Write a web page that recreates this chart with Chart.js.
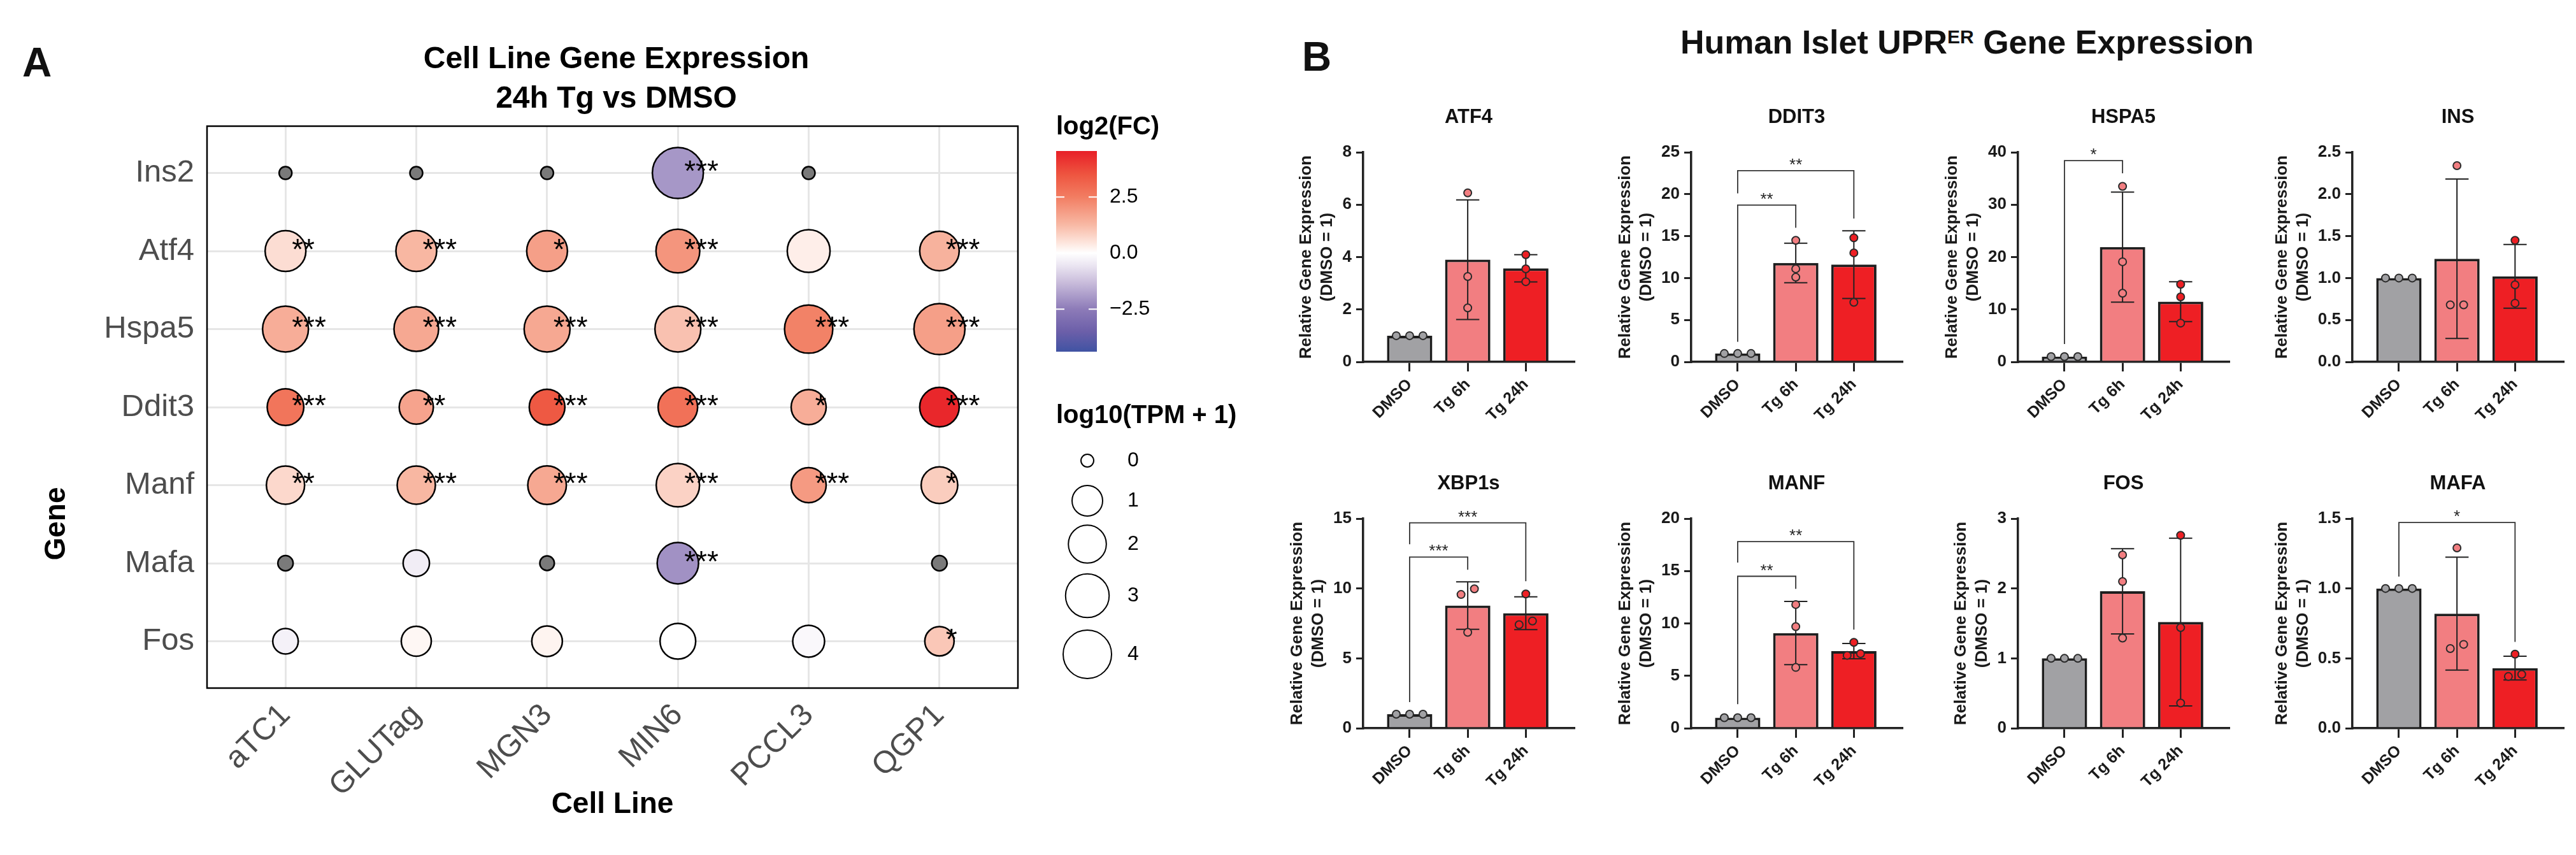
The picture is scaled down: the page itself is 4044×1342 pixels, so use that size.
<!DOCTYPE html>
<html>
<head>
<meta charset="utf-8">
<script src="https://cdn.jsdelivr.net/npm/chart.js@4.4.1/dist/chart.umd.min.js"></script>
<style>
  html, body { margin: 0; padding: 0; background: #fff; }
  body { width: 4044px; height: 1342px; position: relative; overflow: hidden; font-family: "Liberation Sans", Arial, sans-serif; }
  canvas { position: absolute; }
  .lbl { position: absolute; font-weight: bold; color: #111; line-height: 1; white-space: nowrap; }
</style>
</head>
<body>
<div class="lbl" style="left:35px; top:66px; font-size:64px;">A</div>
<div class="lbl" style="left:2044px; top:57px; font-size:64px;">B</div>
<div class="lbl" style="left:3088px; top:66px; font-size:52px; transform:translate(-50%,-50%);">Human Islet UPR<span style="font-size:30px; vertical-align:16px;">ER</span> Gene Expression</div>
<canvas id="chartA"></canvas>
<script>
// ---------- Panel A: cell line dot plot ----------
const cellLines = ['aTC1', 'GLUTag', 'MGN3', 'MIN6', 'PCCL3', 'QGP1'];
const genes = ['Ins2', 'Atf4', 'Hspa5', 'Ddit3', 'Manf', 'Mafa', 'Fos'];

// log10(TPM + 1), rows = genes, cols = cell lines (null = no point)
const tpm = [
  [0, 0, 0, 4.6, 0, null],
  [2.47, 2.47, 2.47, 3.03, 2.84, 2.25],
  [3.45, 3.19, 3.45, 3.45, 3.96, 4.6],
  [1.79, 1.44, 1.65, 2.25, 1.56, 2.25],
  [2.04, 2.04, 2.1, 2.94, 1.56, 1.79],
  [0.02, 0.58, 0.01, 2.58, null, 0.02],
  [0.51, 0.94, 1.0, 1.65, 1.15, 0.86]
];

// log2(FC), null = NA (grey dot)
const log2FC = [
  [null, null, null, -2.0, null, null],
  [0.6, 1.3, 1.8, 2.0, 0.3, 1.4],
  [1.5, 1.6, 1.6, 1.1, 2.4, 1.8],
  [2.7, 1.7, 3.4, 2.8, 1.5, 4.4],
  [0.7, 1.3, 1.6, 0.8, 1.9, 0.9],
  [null, -0.4, null, -2.1, null, null],
  [-0.3, 0.15, 0.2, 0.0, -0.15, 1.0]
];

const sigA = [
  ['', '', '', '***', '', ''],
  ['**', '***', '*', '***', '', '***'],
  ['***', '***', '***', '***', '***', '***'],
  ['***', '**', '***', '***', '*', '***'],
  ['**', '***', '***', '***', '***', '*'],
  ['', '', '', '***', '', ''],
  ['', '', '', '', '', '*']
];

const fcTicks = [2.5, 0, -2.5];
const fcRange = [-4.4, 4.55];
const sizeBreaks = [0, 1, 2, 3, 4];

// ---------- Panel B: human islet bar charts ----------
const groups = ['DMSO', 'Tg 6h', 'Tg 24h'];
const humanGenes = ['ATF4', 'DDIT3', 'HSPA5', 'INS', 'XBP1s', 'MANF', 'FOS', 'MAFA'];
const barMeans = [
  [1.0, 3.9, 3.57],
  [1.0, 11.8, 11.6],
  [1.0, 21.9, 11.5],
  [1.0, 1.23, 1.02],
  [1.0, 8.78, 8.23],
  [1.0, 9.08, 7.35],
  [1.0, 1.96, 1.52],
  [1.0, 0.82, 0.43]
];
const barSD = [
  [0, 2.28, 0.52],
  [0, 2.35, 4.03],
  [0, 10.5, 3.8],
  [0, 0.95, 0.38],
  [0, 1.7, 1.17],
  [0, 3.01, 0.73],
  [0, 0.61, 1.2],
  [0, 0.404, 0.085]
];
const replicates = [
  [[1, 1, 1], [6.45, 3.26, 2.06], [4.09, 3.55, 3.06]],
  [[1, 1, 1], [14.5, 11.1, 10.1], [14.8, 13.0, 7.1]],
  [[1, 1, 1], [33.5, 19.1, 13.1], [14.8, 12.4, 7.4]],
  [[1, 1, 1], [2.34, 0.68, 0.68], [1.45, 0.92, 0.70]],
  [[1, 1, 1], [9.97, 9.57, 6.86], [9.61, 7.67, 7.41]],
  [[1, 1, 1], [11.8, 9.7, 5.8], [8.19, 7.11, 6.95]],
  [[1, 1, 1], [2.48, 2.10, 1.29], [2.76, 1.44, 0.36]],
  [[1, 1, 1], [1.29, 0.60, 0.57], [0.53, 0.385, 0.37]]
];
const yTicksB = [
  [0, 2, 4, 6, 8],
  [0, 5, 10, 15, 20, 25],
  [0, 10, 20, 30, 40],
  [0, 0.5, 1, 1.5, 2, 2.5],
  [0, 5, 10, 15],
  [0, 5, 10, 15, 20],
  [0, 1, 2, 3],
  [0, 0.5, 1, 1.5]
];
// [from, to, line y, left leg end, right leg end, label]
const brackets = [
  [],
  [[0, 1, 18.7, 2.4, 16.0, '**'], [0, 2, 22.8, 20.1, 17.1, '**']],
  [[0, 1, 38.4, 3.4, 36.0, '*']],
  [],
  [[0, 1, 12.25, 1.87, 11.34, '***'], [0, 2, 14.7, 13.17, 10.52, '***']],
  [[0, 1, 14.5, 2.3, 13.3, '**'], [0, 2, 17.8, 15.8, 9.4, '**']],
  [],
  [[0, 2, 1.472, 1.085, 0.618, '*']]
];

const FONT = '"Liberation Sans", Arial, sans-serif';
const groupFill = ['#a1a1a4', '#f27e81', '#ee1f24'];

// ggplot-like gradient2
const fcStops = [
  [4.55, '#e81f27'], [3.5, '#ee5540'], [2.5, '#f27d62'], [1.25, '#f8b9a5'],
  [0.5, '#fde3da'], [0, '#ffffff'], [-0.5, '#ede8f3'], [-1.25, '#ccc0dd'],
  [-2.5, '#8d7bb8'], [-3.5, '#6c5fa9'], [-4.4, '#4053a3']
];
function hexRgb(h) {
  return [1, 3, 5].map(i => parseInt(h.substr(i, 2), 16));
}
function fcColor(v) {
  if (v >= fcStops[0][0]) return fcStops[0][1];
  for (let i = 0; i < fcStops.length - 1; i++) {
    const [v1, c1] = fcStops[i], [v2, c2] = fcStops[i + 1];
    if (v <= v1 && v >= v2) {
      const t = (v1 - v) / (v1 - v2);
      const a = hexRgb(c1), b = hexRgb(c2);
      return 'rgb(' + a.map((x, k) => Math.round(x + (b[k] - x) * t)).join(',') + ')';
    }
  }
  return fcStops[fcStops.length - 1][1];
}
function sizeFor(v) {
  return 10 + 28 * Math.sqrt(Math.max(v, 0) / 4);
}

const bubblePoints = [];
genes.forEach((g, gi) => {
  cellLines.forEach((c, ci) => {
    if (tpm[gi][ci] === null) return;
    bubblePoints.push({ x: ci, y: gi, tpm: tpm[gi][ci], fc: log2FC[gi][ci], sig: sigA[gi][ci] });
  });
});

const panelADecor = {
  id: 'panelADecor',
  afterDatasetsDraw(chart) {
    const ctx = chart.ctx;
    const meta = chart.getDatasetMeta(0);
    ctx.save();
    ctx.fillStyle = '#000';
    ctx.font = '46px ' + FONT;
    ctx.textAlign = 'left';
    ctx.textBaseline = 'middle';
    meta.data.forEach((el, i) => {
      const p = bubblePoints[i];
      if (p.sig) ctx.fillText(p.sig, el.x + 10, el.y);
    });
    ctx.restore();
  },
  afterDraw(chart) {
    const ctx = chart.ctx, a = chart.chartArea;
    const cx = (a.left + a.right) / 2;
    ctx.save();
    ctx.strokeStyle = '#000';
    ctx.lineWidth = 2.5;
    ctx.strokeRect(a.left, a.top, a.right - a.left, a.bottom - a.top);

    ctx.fillStyle = '#000';
    ctx.textAlign = 'center';
    ctx.textBaseline = 'middle';
    ctx.font = 'bold 48px ' + FONT;
    ctx.fillText('Cell Line Gene Expression', cx + 6, 94);
    ctx.fillText('24h Tg vs DMSO', cx + 6, 156);
    ctx.font = 'bold 46px ' + FONT;
    ctx.fillText('Cell Line', cx, 1263);
    ctx.save();
    ctx.translate(89, 822);
    ctx.rotate(-Math.PI / 2);
    ctx.fillText('Gene', 0, 0);
    ctx.restore();

    // colour bar legend
    const cbL = 1658, cbR = 1722, cbT = 237, cbB = 552;
    const yOf = v => cbT + (fcRange[1] - v) / (fcRange[1] - fcRange[0]) * (cbB - cbT);
    ctx.textAlign = 'left';
    ctx.font = 'bold 40px ' + FONT;
    ctx.fillText('log2(FC)', cbL, 200);
    const grad = ctx.createLinearGradient(0, cbT, 0, cbB);
    fcStops.forEach(([v, c]) => grad.addColorStop((fcRange[1] - v) / (fcRange[1] - fcRange[0]), c));
    ctx.fillStyle = grad;
    ctx.fillRect(cbL, cbT, cbR - cbL, cbB - cbT);
    ctx.strokeStyle = '#fff';
    ctx.lineWidth = 2;
    ctx.font = '32px ' + FONT;
    ctx.fillStyle = '#000';
    fcTicks.forEach(v => {
      const y = yOf(v);
      ctx.beginPath();
      ctx.moveTo(cbL, y); ctx.lineTo(cbL + 13, y);
      ctx.moveTo(cbR - 13, y); ctx.lineTo(cbR, y);
      ctx.stroke();
      ctx.fillText(v.toFixed(1).replace('-', '\u2212'), 1742, y);
    });

    // size legend
    ctx.font = 'bold 40px ' + FONT;
    ctx.fillText('log10(TPM + 1)', cbL, 653);
    const keyY = [723, 786, 854, 935, 1027];
    ctx.font = '32px ' + FONT;
    ctx.strokeStyle = '#000';
    sizeBreaks.forEach((b, i) => {
      ctx.beginPath();
      ctx.arc(1707, keyY[i], sizeFor(b), 0, Math.PI * 2);
      ctx.fillStyle = '#fff';
      ctx.fill();
      ctx.lineWidth = 2;
      ctx.stroke();
      ctx.fillStyle = '#000';
      ctx.fillText(String(b), 1770, keyY[i]);
    });
    ctx.restore();
  }
};

const canvasA = document.getElementById('chartA');
canvasA.width = 2000; canvasA.height = 1342;
canvasA.style.left = '0px'; canvasA.style.top = '0px';
canvasA.style.width = '2000px'; canvasA.style.height = '1342px';

new Chart(canvasA, {
  type: 'bubble',
  data: {
    datasets: [{
      data: bubblePoints,
      radius: ctx => (ctx.raw ? sizeFor(ctx.raw.tpm) : 10),
      backgroundColor: ctx => (!ctx.raw ? '#999' : ctx.raw.fc === null ? '#7a7a7a' : fcColor(ctx.raw.fc)),
      borderColor: '#000',
      borderWidth: 2.5
    }]
  },
  options: {
    animation: false,
    responsive: false,
    devicePixelRatio: 1,
    layout: { padding: { left: 0, top: 198, right: 402, bottom: 62 } },
    plugins: { legend: { display: false }, tooltip: { enabled: false } },
    scales: {
      x: {
        type: 'linear', min: -0.6, max: 5.6,
        afterBuildTicks: s => { s.ticks = cellLines.map((c, i) => ({ value: i })); },
        afterFit: s => { s.height = 200; },
        ticks: {
          callback: v => cellLines[v], autoSkip: false,
          minRotation: 45, maxRotation: 45, padding: 14,
          color: '#4d4d4d', font: { family: FONT, size: 49 }
        },
        grid: { color: '#e6e6e6', lineWidth: 3, drawTicks: false },
        border: { display: false }
      },
      y: {
        type: 'linear', min: -0.6, max: 6.6, reverse: true,
        afterBuildTicks: s => { s.ticks = genes.map((g, i) => ({ value: i })); },
        afterFit: s => { s.width = 325; },
        ticks: {
          callback: v => genes[v], autoSkip: false, padding: 20,
          color: '#4d4d4d', font: { family: FONT, size: 49 }
        },
        grid: { color: '#e6e6e6', lineWidth: 3, drawTicks: false },
        border: { display: false }
      }
    }
  },
  plugins: [panelADecor]
});

// ---------- Panel B charts ----------
const colAxisX = [2140, 2655, 3168, 3693];
const rowTop = [239, 814];
const plotW = 331, plotH = 329;
const padL = 130, padT = 100, padR = 20, padB = 150;

function spread(vals, ymax) {
  const idx = vals.map((v, i) => i).sort((a, b) => vals[a] - vals[b]);
  const off = vals.map(() => 0);
  let cluster = [idx[0]];
  const flush = () => cluster.forEach((k, j) => { off[k] = (j - (cluster.length - 1) / 2) * 0.23; });
  for (let j = 1; j < idx.length; j++) {
    if (vals[idx[j]] - vals[idx[j - 1]] < ymax * 0.035) cluster.push(idx[j]);
    else { flush(); cluster = [idx[j]]; }
  }
  flush();
  return off;
}

function makeExtras(k) {
  return {
    id: 'extras' + k,
    afterDatasetDraw(chart, args) {
      if (args.index !== 0) return;
      const ctx = chart.ctx, xs = chart.scales.x, ys = chart.scales.y;
      ctx.save();
      ctx.strokeStyle = '#222';
      ctx.lineWidth = 2;
      barMeans[k].forEach((m, i) => {
        const s = barSD[k][i];
        if (!s) return;
        const x = xs.getPixelForValue(i);
        const half = xs.getPixelForValue(i + 0.2) - x;
        const yt = ys.getPixelForValue(m + s), yb = ys.getPixelForValue(Math.max(m - s, 0));
        ctx.beginPath();
        ctx.moveTo(x, yt); ctx.lineTo(x, yb);
        ctx.moveTo(x - half, yt); ctx.lineTo(x + half, yt);
        ctx.moveTo(x - half, yb); ctx.lineTo(x + half, yb);
        ctx.stroke();
      });
      ctx.restore();
    },
    afterDraw(chart) {
      const ctx = chart.ctx, xs = chart.scales.x, ys = chart.scales.y, a = chart.chartArea;
      ctx.save();
      ctx.strokeStyle = '#333';
      ctx.lineWidth = 1.8;
      ctx.fillStyle = '#222';
      ctx.textAlign = 'center';
      ctx.textBaseline = 'middle';
      ctx.font = '26px ' + FONT;
      brackets[k].forEach(([f, t, y, yl, yr, lab]) => {
        const x1 = xs.getPixelForValue(f), x2 = xs.getPixelForValue(t), py = ys.getPixelForValue(y);
        ctx.beginPath();
        ctx.moveTo(x1, ys.getPixelForValue(yl));
        ctx.lineTo(x1, py);
        ctx.lineTo(x2, py);
        ctx.lineTo(x2, ys.getPixelForValue(yr));
        ctx.stroke();
        ctx.fillText(lab, (x1 + x2) / 2, py - 8);
      });
      ctx.font = 'bold 31px ' + FONT;
      ctx.fillStyle = '#111';
      ctx.fillText(humanGenes[k], (a.left + a.right) / 2, a.top - 55);
      ctx.restore();
    }
  };
}

humanGenes.forEach((gene, k) => {
  const col = k % 4, row = Math.floor(k / 4);
  const cv = document.createElement('canvas');
  const w = padL + plotW + padR, h = padT + plotH + padB;
  cv.width = w; cv.height = h;
  cv.style.left = (colAxisX[col] - padL) + 'px';
  cv.style.top = (rowTop[row] - padT) + 'px';
  cv.style.width = w + 'px'; cv.style.height = h + 'px';
  document.body.appendChild(cv);

  const ticks = yTicksB[k];
  const ymax = ticks[ticks.length - 1];
  const dec = ticks.some(v => v % 1 !== 0) ? 1 : 0;
  const maxLabel = Math.max(...ticks.map(v => v.toFixed(dec).length));
  const titlePad = maxLabel === 1 ? 24 : maxLabel === 2 ? 10 : 3;

  const pts = [];
  replicates[k].forEach((vals, gi) => {
    const off = spread(vals, ymax);
    vals.forEach((v, j) => pts.push({ x: gi + off[j], y: v }));
  });

  new Chart(cv, {
    type: 'bar',
    data: {
      datasets: [
        {
          type: 'bar',
          data: barMeans[k].map((m, i) => ({ x: i, y: m })),
          backgroundColor: groupFill,
          borderColor: '#1e1e1e',
          borderWidth: 4,
          barPercentage: 0.78,
          categoryPercentage: 1,
          order: 2
        },
        {
          type: 'scatter',
          data: pts,
          pointRadius: 6,
          pointBorderWidth: 2,
          pointBorderColor: '#2a2a2a',
          pointBackgroundColor: ctx => (ctx.raw ? groupFill[Math.round(ctx.raw.x)] : '#999'),
          order: 1
        }
      ]
    },
    options: {
      animation: false,
      responsive: false,
      devicePixelRatio: 1,
      layout: { padding: { left: 0, top: padT, right: padR, bottom: 0 } },
      plugins: { legend: { display: false }, tooltip: { enabled: false } },
      scales: {
        x: {
          type: 'linear', min: -0.8, max: 2.83, offset: false,
          afterBuildTicks: s => { s.ticks = groups.map((g, i) => ({ value: i })); },
          afterFit: s => { s.height = padB; },
          ticks: {
            callback: v => groups[v], autoSkip: false,
            minRotation: 45, maxRotation: 45, padding: 6,
            color: '#1a1a1a', font: { family: FONT, size: 25, weight: 'bold' }
          },
          grid: { display: true, offset: false, drawOnChartArea: false, drawTicks: true, tickLength: 15, lineWidth: 3, color: '#222' },
          border: { display: true, width: 3.5, color: '#222' }
        },
        y: {
          type: 'linear', min: 0, max: ymax,
          afterBuildTicks: s => { s.ticks = ticks.map(v => ({ value: v })); },
          afterFit: s => { s.width = padL; },
          ticks: {
            callback: v => v.toFixed(dec), autoSkip: false, padding: 7,
            color: '#1a1a1a', font: { family: FONT, size: 26, weight: 'bold' }
          },
          grid: { display: true, drawOnChartArea: false, drawTicks: true, tickLength: 11, lineWidth: 3, color: '#222' },
          border: { display: true, width: 3.5, color: '#222' },
          title: {
            display: true,
            text: ['Relative Gene Expression', '(DMSO = 1)'],
            color: '#1a1a1a',
            font: { family: FONT, size: 26, weight: 'bold', lineHeight: 1.27 },
            padding: { top: titlePad, bottom: 0 }
          }
        }
      }
    },
    plugins: [makeExtras(k)]
  });
});
</script>
</body>
</html>
